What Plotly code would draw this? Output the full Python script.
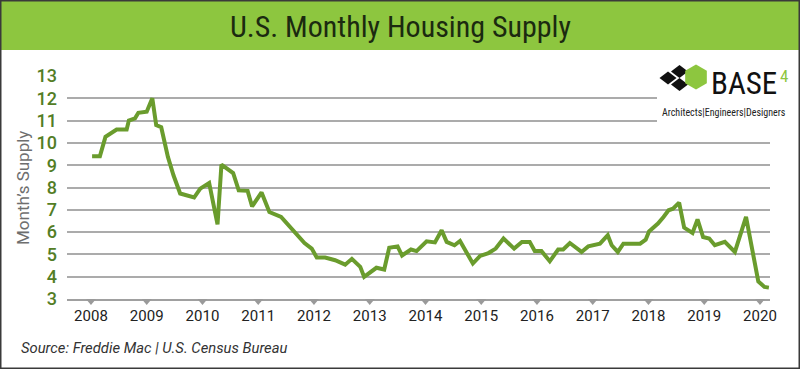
import math
import plotly.graph_objects as go

# ---- data ----
years = [2008.02, 2008.16, 2008.26, 2008.34, 2008.46, 2008.64, 2008.68, 2008.79, 2008.85, 2009.00,
         2009.10, 2009.17, 2009.26, 2009.38, 2009.48, 2009.60, 2009.85, 2009.96, 2010.12, 2010.27,
         2010.34, 2010.55, 2010.65, 2010.81, 2010.89, 2011.06, 2011.20, 2011.41, 2011.63, 2011.83,
         2011.96, 2012.05, 2012.20, 2012.38, 2012.56, 2012.68, 2012.83, 2012.90, 2013.12, 2013.26,
         2013.35, 2013.50, 2013.58, 2013.74, 2013.84, 2014.02, 2014.17, 2014.29, 2014.38, 2014.52,
         2014.62, 2014.85, 2014.98, 2015.13, 2015.26, 2015.40, 2015.59, 2015.73, 2015.87, 2015.96,
         2016.08, 2016.23, 2016.38, 2016.47, 2016.59, 2016.80, 2016.92, 2017.07, 2017.13, 2017.27,
         2017.34, 2017.45, 2017.55, 2017.85, 2017.95, 2018.01, 2018.17, 2018.27, 2018.36, 2018.44,
         2018.55, 2018.64, 2018.79, 2018.88, 2018.98, 2019.09, 2019.19, 2019.37, 2019.55, 2019.75,
         2019.97, 2020.08, 2020.16]
supply = [9.4, 9.4, 10.27, 10.4, 10.6, 10.6, 11.0, 11.1, 11.35, 11.4,
          12.0, 10.8, 10.7, 9.37, 8.55, 7.73, 7.55, 7.95, 8.2, 6.35,
          9.03, 8.65, 7.87, 7.85, 7.15, 7.78, 6.9, 6.68, 6.08, 5.51,
          5.26, 4.86, 4.86, 4.74, 4.54, 4.8, 4.44, 3.99, 4.4, 4.32,
          5.3, 5.36, 4.95, 5.22, 5.15, 5.59, 5.54, 6.08, 5.56, 5.41,
          5.6, 4.59, 4.93, 5.06, 5.26, 5.71, 5.26, 5.56, 5.56, 5.15,
          5.15, 4.69, 5.22, 5.22, 5.51, 5.11, 5.36, 5.45, 5.48, 5.86,
          5.41, 5.11, 5.48, 5.48, 5.66, 6.03, 6.38, 6.68, 6.98, 7.05,
          7.32, 6.2, 5.96, 6.57, 5.78, 5.71, 5.41, 5.56, 5.11, 6.68,
          3.79, 3.54, 3.51]
x_ticks = list(range(2008, 2021))
y_ticks = list(range(3, 14))

title_text = "U.S. Monthly Housing Supply"
y_title = "Month\u2019s Supply"
source_text = "Source: Freddie Mac | U.S. Census Bureau"

# ---- geometry helpers (pixel -> paper) ----
W, H = 800, 369
ML, MR, MT, MB = 67, 30, 76, 70
PW, PH = W - ML - MR, H - MT - MB
X_RANGE = [2007.57, 2020.18]


def px(p):
    return (p - ML) / PW


def py(p):
    return (H - MB - p) / PH


GREEN_BAR = "#8dc63f"
LINE_GREEN = "#6a9c2d"
TICK_GREEN = "#537d25"
NARROW = "Liberation Sans Narrow, Roboto Condensed, Roboto"

fig = go.Figure()
fig.add_trace(go.Scatter(x=years, y=supply, mode="lines",
                         line=dict(color=LINE_GREEN, width=4), hoverinfo="skip",
                         showlegend=False))

shapes = []
# green title bar
shapes.append(dict(type="rect", xref="paper", yref="paper", x0=px(0), x1=px(800),
                   y0=py(50), y1=py(0), fillcolor=GREEN_BAR, line=dict(width=0), layer="above"))
# white box behind the logo
shapes.append(dict(type="rect", xref="paper", yref="paper", x0=px(657), x1=px(795),
                   y0=py(124), y1=py(62), fillcolor="white", line=dict(width=0), layer="above"))
# logo diamonds
for cx, cy in [(668, 78), (679.5, 71.5), (679.5, 84.5)]:
    hw, hh = 8.5, 6.5
    path = (f"M {px(cx - hw)},{py(cy)} L {px(cx)},{py(cy - hh)} "
            f"L {px(cx + hw)},{py(cy)} L {px(cx)},{py(cy + hh)} Z")
    shapes.append(dict(type="path", xref="paper", yref="paper", path=path,
                       fillcolor="#111111", line=dict(width=0), layer="above"))
# logo hexagon
hx, hy, r = 696, 77, 12.5
pts = []
for k in range(6):
    a = math.radians(90 + 60 * k)
    pts.append((px(hx + r * math.cos(a)), py(hy - r * math.sin(a))))
hpath = "M " + " L ".join(f"{a},{b}" for a, b in pts) + " Z"
shapes.append(dict(type="path", xref="paper", yref="paper", path=hpath,
                   fillcolor=GREEN_BAR, line=dict(width=0), layer="above"))
# downward triangles under the axis at each year
dx = 5 / PW * (X_RANGE[1] - X_RANGE[0])
for t in x_ticks:
    path = f"M {t - dx},{py(299)} L {t + dx},{py(299)} L {t},{py(305)} Z"
    shapes.append(dict(type="path", xref="x", yref="paper", path=path,
                       fillcolor="#9a9a9a", line=dict(width=0), layer="above"))
# outer border
shapes.append(dict(type="rect", xref="paper", yref="paper", x0=px(0.5), x1=px(799.5),
                   y0=py(368.5), y1=py(0.5), line=dict(color="#3a3a3a", width=2),
                   fillcolor="rgba(0,0,0,0)", layer="above"))

annotations = [
    dict(text=title_text, xref="paper", yref="paper", x=px(400), y=py(26),
         xanchor="center", yanchor="middle", showarrow=False,
         font=dict(family=NARROW, size=30, color="#1b2a10")),
    dict(text=y_title, xref="paper", yref="paper", x=px(23), y=py(188),
         xanchor="center", yanchor="middle", textangle=-90, showarrow=False,
         font=dict(family="Roboto", size=17, color="#6e6e6e")),
    dict(text=source_text, xref="paper", yref="paper", x=px(19), y=py(348),
         xanchor="left", yanchor="middle", showarrow=False,
         font=dict(family="Roboto", size=14.8, color="#333333", style="italic")),
    dict(text="BASE", xref="paper", yref="paper", x=px(709), y=py(83),
         xanchor="left", yanchor="middle", showarrow=False,
         font=dict(family=NARROW, size=31, color="#111111")),
    dict(text="4", xref="paper", yref="paper", x=px(778), y=py(76),
         xanchor="left", yanchor="middle", showarrow=False,
         font=dict(family=NARROW, size=17, color=GREEN_BAR)),
    dict(text="Architects|Engineers|Designers", xref="paper", yref="paper", x=px(724), y=py(112.5),
         xanchor="center", yanchor="middle", showarrow=False,
         font=dict(family=NARROW, size=10, color="#222222")),
]

fig.update_layout(
    width=W, height=H,
    margin=dict(l=ML, r=MR, t=MT, b=MB, pad=0),
    paper_bgcolor="white", plot_bgcolor="white",
    showlegend=False,
    shapes=shapes,
    annotations=annotations,
    xaxis=dict(range=X_RANGE, tickvals=x_ticks, ticktext=[str(t) for t in x_ticks],
               showgrid=False, zeroline=False, showline=True, linecolor="#a0a0a0", linewidth=1.5,
               ticks="", ticklabelstandoff=2,
               tickfont=dict(family="Roboto", size=15, color="#222222"), fixedrange=True),
    yaxis=dict(range=[3, 13], tickvals=y_ticks, showgrid=True, gridcolor="#ababab", gridwidth=1.5,
               zeroline=False, showline=False, ticks="", ticklabelstandoff=9,
               tickfont=dict(family="Roboto", size=18, color=TICK_GREEN, weight=500),
               fixedrange=True),
)

fig.write_html("out.html", config={"displayModeBar": False},
               post_script="document.body.style.margin='0';document.body.style.padding='0';")
